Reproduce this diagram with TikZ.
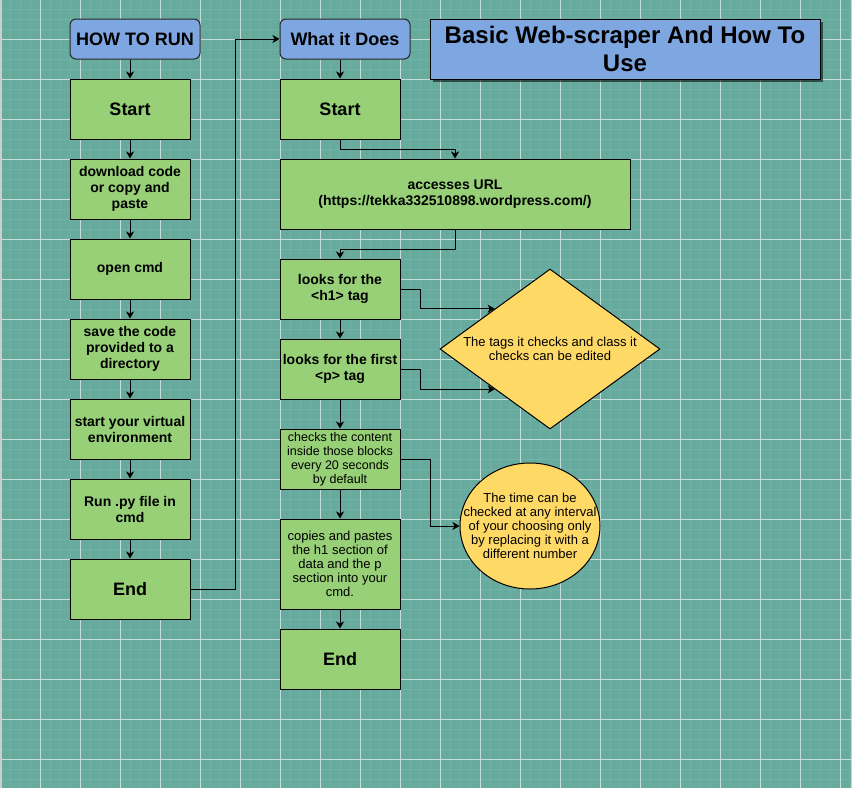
\documentclass[tikz,border=0pt]{standalone}
\usepackage{fontspec}
\setmainfont{Liberation Sans}
\usetikzlibrary{shapes.geometric,arrows.meta,calc,shadows}

\definecolor{canvas}{HTML}{67AB9F}
\definecolor{stepgreen}{HTML}{97D077}
\definecolor{headblue}{HTML}{7EA6E0}
\definecolor{noteyellow}{HTML}{FFD966}
\definecolor{gridmajor}{RGB}{196,222,217}
\definecolor{gridminor}{RGB}{114,178,166}
\definecolor{edgegray}{RGB}{205,205,205}

\newcommand\fsz[2]{\fontsize{#1}{#2}\selectfont}

\begin{document}
\begin{tikzpicture}[x=1pt,y=-1pt,
  stepbox/.style={draw=black, line width=1pt, fill=stepgreen, inner sep=0pt,
    align=center, minimum width=120pt, minimum height=60pt,
    font=\bfseries\fsz{14}{16}},
  plainbox/.style={stepbox, font=\fsz{12.5}{14}},
  bigbox/.style={stepbox, font=\bfseries\fsz{18}{21}},
  headbox/.style={draw=black!85, line width=1pt, fill=headblue, rounded corners=6pt,
    inner sep=0pt, minimum width=130pt, minimum height=40pt,
    font=\bfseries\fsz{18}{21}},
  notetext/.style={font=\fsz{13}{14}, align=center, inner sep=0pt},
  link/.style={draw=black, line width=1pt, -{Stealth[length=7pt,width=8pt,inset=2pt]}}
]
\useasboundingbox (0,0) rectangle (852,788);

% canvas with grid
\fill[canvas] (0,0) rectangle (852,788);
\foreach \x in {10,20,...,850} \draw[gridminor, line width=1pt] (\x,0) -- (\x,788);
\foreach \y in {9,19,...,789} \draw[gridminor, line width=1pt] (0,\y) -- (852,\y);
\foreach \x in {40,80,...,840} \draw[gridmajor, line width=1pt] (\x,0) -- (\x,788);
\foreach \y in {39,79,...,759} \draw[gridmajor, line width=1pt] (0,\y) -- (852,\y);
\draw[edgegray, line width=1.5pt] (0.75,0) -- (0.75,788);
\draw[edgegray, line width=1.5pt] (851.25,0) -- (851.25,788);

% title
\node[draw=black, line width=1pt, fill=headblue, inner sep=0pt,
  minimum width=390pt, minimum height=60pt, align=center,
  font=\bfseries\fsz{24}{28},
  drop shadow={shadow xshift=3pt, shadow yshift=-3pt, opacity=0.55, fill=black}]
  (title) at (625,49) {Basic Web-scraper And How To\\Use};

% how to run
\node[headbox] (how) at (135,39) {HOW TO RUN};
\node[bigbox]   (ls) at (130,109) {Start};
\node[stepbox]  (dl) at (130,189) {download code\\or copy and\\paste};
\node[stepbox]  (oc) at (130,269) {open cmd};
\node[stepbox]  (sv) at (130,349) {save the code\\provided to a\\directory};
\node[stepbox]  (ve) at (130,429) {start your virtual\\environment};
\node[stepbox]  (rp) at (130,509) {Run .py file in\\cmd};
\node[bigbox]   (le) at (130,589) {End};

% what it does
\node[headbox] (what) at (345,39) {What it Does};
\node[bigbox]   (rs) at (340,109) {Start};
\node[stepbox, minimum width=350pt, minimum height=70pt] (url) at (455,194)
  {accesses URL\\(https://tekka332510898.wordpress.com/)};
\node[stepbox]  (h1) at (340,289) {looks for the\\<h1> tag};
\node[stepbox]  (pt) at (340,369) {looks for the first\\<p> tag};
\node[plainbox] (chk) at (340,459) {checks the content\\inside those blocks\\every 20 seconds\\by default};
\node[plainbox, font=\fsz{13}{14}, minimum height=90pt] (cp) at (340,564)
  {copies and pastes\\the h1 section of\\data and the p\\section into your\\cmd.};
\node[bigbox]   (re) at (340,659) {End};

% notes
\node[diamond, draw=black, line width=1pt, fill=noteyellow, inner sep=0pt,
  minimum width=220pt, minimum height=160pt,
  label={[notetext]center:The tags it checks and class it\\checks can be edited}]
  (diam) at (550,349) {};
\node[ellipse, draw=black, line width=1pt, fill=noteyellow, inner sep=0pt,
  minimum width=140pt, minimum height=126pt,
  label={[notetext]center:The time can be\\checked at any interval\\of your choosing only\\by replacing it with a\\different number}]
  (circ) at (530,526) {};
\coordinate (dA) at ($(diam.west)!0.5!(diam.north)$);
\coordinate (dB) at ($(diam.west)!0.5!(diam.south)$);

% connectors, left column
\draw[link] (ls.north |- how.south) -- (ls.north);
\draw[link] (ls) -- (dl);
\draw[link] (dl) -- (oc);
\draw[link] (oc) -- (sv);
\draw[link] (sv) -- (ve);
\draw[link] (ve) -- (rp);
\draw[link] (rp) -- (le);
\draw[link] (le.east) -- ++(45,0) |- (what.west);

% connectors, right column
\draw[link] (rs.north |- what.south) -- (rs.north);
\draw[link] (rs.south) -- ++(0,10) -| (url.north);
\draw[link] (url.south) -- ++(0,20) -| (h1.north);
\draw[link] (h1) -- (pt);
\draw[link] (pt) -- (chk);
\draw[link] (chk) -- (cp);
\draw[link] (cp) -- (re);
\draw[link] (h1.east) -- ++(20,0) |- (dA);
\draw[link] (pt.east) -- ++(20,0) |- (dB);
\draw[link] (chk.east) -- ++(30,0) |- (circ.west);
\end{tikzpicture}
\end{document}
